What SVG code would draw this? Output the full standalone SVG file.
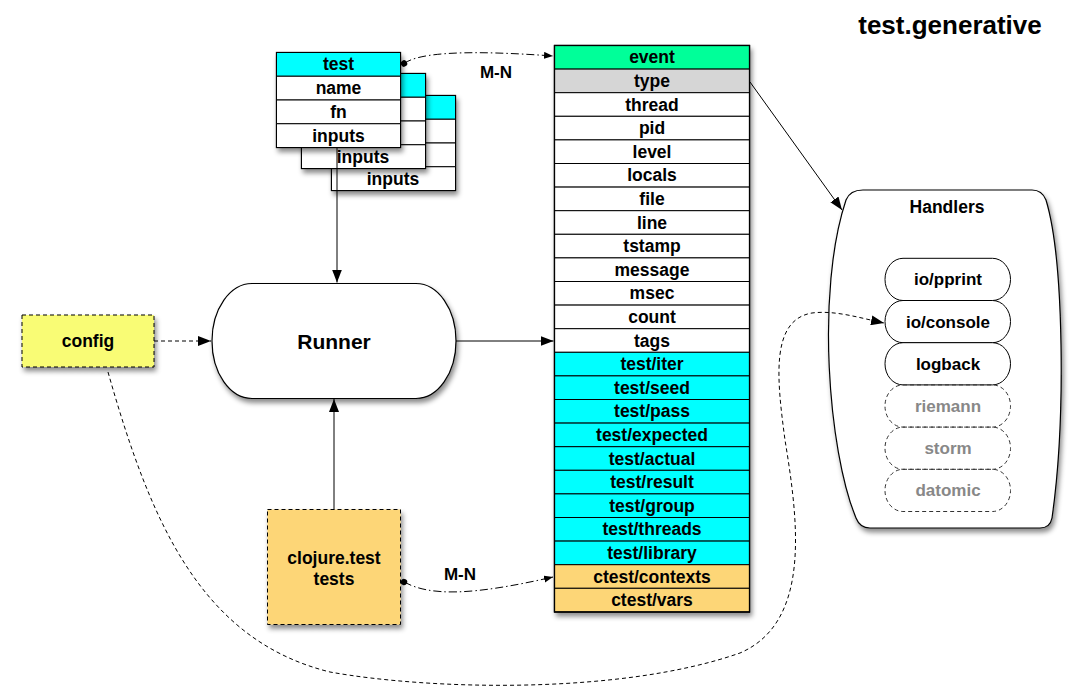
<svg xmlns="http://www.w3.org/2000/svg" width="1089" height="697" viewBox="0 0 1089 697">
<style>
.t{font-family:"Liberation Sans",Arial,Helvetica,sans-serif;font-weight:bold;font-size:17.5px;text-anchor:middle;fill:#000}
.g{fill:#888}
.box{stroke:#000;stroke-width:1.3}
.row{stroke:#000;stroke-width:1}
.cy{fill:#00FFFF}
.wh{fill:#FFFFFF}
.or{fill:#FDD677}
.dash{stroke-dasharray:4 3}
.ln{fill:none;stroke:#000;stroke-width:1}
.dd{stroke-dasharray:8 3 1.5 3}
</style>
<defs>
<filter id="sh" x="-10%" y="-10%" width="130%" height="130%">
<feDropShadow dx="2" dy="4" stdDeviation="2.5" flood-color="#000" flood-opacity="0.45"/>
</filter>
<marker id="ar" markerUnits="userSpaceOnUse" markerWidth="14" markerHeight="10" refX="13" refY="5" orient="auto">
<path d="M0,0 L13,5 L0,10 z" fill="#000"/>
</marker>
<marker id="arS" markerUnits="userSpaceOnUse" markerWidth="10" markerHeight="8" refX="9" refY="3.5" orient="auto">
<path d="M0,0 L9,3.5 L0,7 z" fill="#000"/>
</marker>
<marker id="dot" markerUnits="userSpaceOnUse" markerWidth="8" markerHeight="8" refX="4" refY="4" orient="auto">
<circle cx="4" cy="4" r="3.2" fill="#000"/>
</marker>
</defs>
<rect width="1089" height="697" fill="#fff"/>

<text class="t" x="950" y="34" style="font-size:26px">test.generative</text>

<!-- stacked test tables -->
<g id="test3">
<rect x="331.5" y="95.5" width="124" height="95" class="wh box" filter="url(#sh)"/>
<rect x="331.5" y="95.5" width="124" height="23.75" class="cy row"/>
<rect x="331.5" y="119.25" width="124" height="23.75" class="wh row"/>
<rect x="331.5" y="143" width="124" height="23.75" class="wh row"/>
<rect x="331.5" y="166.75" width="124" height="23.75" class="wh row"/>
<text class="t" x="393" y="184.6">inputs</text>
</g>
<g id="test2">
<rect x="301.5" y="73.5" width="124" height="95" class="wh box" filter="url(#sh)"/>
<rect x="301.5" y="73.5" width="124" height="23.75" class="cy row"/>
<rect x="301.5" y="97.25" width="124" height="23.75" class="wh row"/>
<rect x="301.5" y="121" width="124" height="23.75" class="wh row"/>
<rect x="301.5" y="144.75" width="124" height="23.75" class="wh row"/>
<text class="t" x="363" y="162.6">inputs</text>
</g>
<g id="test1">
<rect x="276.5" y="52.5" width="124" height="95" class="wh box" filter="url(#sh)"/>
<rect x="276.5" y="52.5" width="124" height="23.75" class="cy row"/>
<rect x="276.5" y="76.25" width="124" height="23.75" class="wh row"/>
<rect x="276.5" y="100" width="124" height="23.75" class="wh row"/>
<rect x="276.5" y="123.75" width="124" height="23.75" class="wh row"/>
<text class="t" x="338.5" y="70.4">test</text>
<text class="t" x="338.5" y="94.1">name</text>
<text class="t" x="338.5" y="117.9">fn</text>
<text class="t" x="338.5" y="141.6">inputs</text>
</g>

<!-- config -->
<g id="config">
<rect x="22" y="315" width="132" height="52" fill="#F9FC74" stroke="#000" stroke-width="1" class="dash" filter="url(#sh)"/>
<text class="t" x="88" y="347">config</text>
</g>

<!-- Runner -->
<g id="runner">
<path d="M252,283.5 H416 A40,57.5 0 0 1 416,398.5 H252 A40,57.5 0 0 1 252,283.5 Z" fill="#fff" stroke="#000" stroke-width="1.2" filter="url(#sh)"/>
<text class="t" x="334" y="348.5" style="font-size:21px">Runner</text>
</g>

<!-- clojure.test -->
<g id="clojuretest">
<rect x="267.5" y="509.5" width="133" height="115" class="or dash" stroke="#000" stroke-width="1" filter="url(#sh)"/>
<text class="t" x="334" y="563.5">clojure.test</text>
<text class="t" x="334" y="585">tests</text>
</g>

<!-- event table -->
<g id="event">
<rect x="554.5" y="45.5" width="195" height="566.4" fill="#fff" class="box" filter="url(#sh)"/>
<rect x="554.5" y="45.5" width="195" height="23.6" fill="#00FF99" class="row"/>
<rect x="554.5" y="69.1" width="195" height="23.6" fill="#D6D6D6" class="row"/>
<rect x="554.5" y="92.7" width="195" height="23.6" class="wh row"/>
<rect x="554.5" y="116.3" width="195" height="23.6" class="wh row"/>
<rect x="554.5" y="139.9" width="195" height="23.6" class="wh row"/>
<rect x="554.5" y="163.5" width="195" height="23.6" class="wh row"/>
<rect x="554.5" y="187.1" width="195" height="23.6" class="wh row"/>
<rect x="554.5" y="210.7" width="195" height="23.6" class="wh row"/>
<rect x="554.5" y="234.3" width="195" height="23.6" class="wh row"/>
<rect x="554.5" y="257.9" width="195" height="23.6" class="wh row"/>
<rect x="554.5" y="281.5" width="195" height="23.6" class="wh row"/>
<rect x="554.5" y="305.1" width="195" height="23.6" class="wh row"/>
<rect x="554.5" y="328.7" width="195" height="23.6" class="wh row"/>
<rect x="554.5" y="352.3" width="195" height="23.6" class="cy row"/>
<rect x="554.5" y="375.9" width="195" height="23.6" class="cy row"/>
<rect x="554.5" y="399.5" width="195" height="23.6" class="cy row"/>
<rect x="554.5" y="423.1" width="195" height="23.6" class="cy row"/>
<rect x="554.5" y="446.7" width="195" height="23.6" class="cy row"/>
<rect x="554.5" y="470.3" width="195" height="23.6" class="cy row"/>
<rect x="554.5" y="493.9" width="195" height="23.6" class="cy row"/>
<rect x="554.5" y="517.5" width="195" height="23.6" class="cy row"/>
<rect x="554.5" y="541.1" width="195" height="23.6" class="cy row"/>
<rect x="554.5" y="564.7" width="195" height="23.6" class="or row"/>
<rect x="554.5" y="588.3" width="195" height="23.6" class="or row"/>
<rect x="554.5" y="45.5" width="195" height="566.4" fill="none" class="box"/>
<text class="t" x="652" y="63.3">event</text>
<text class="t" x="652" y="86.9">type</text>
<text class="t" x="652" y="110.5">thread</text>
<text class="t" x="652" y="134.1">pid</text>
<text class="t" x="652" y="157.7">level</text>
<text class="t" x="652" y="181.3">locals</text>
<text class="t" x="652" y="204.9">file</text>
<text class="t" x="652" y="228.5">line</text>
<text class="t" x="652" y="252.1">tstamp</text>
<text class="t" x="652" y="275.7">message</text>
<text class="t" x="652" y="299.3">msec</text>
<text class="t" x="652" y="322.9">count</text>
<text class="t" x="652" y="346.5">tags</text>
<text class="t" x="652" y="370.1">test/iter</text>
<text class="t" x="652" y="393.7">test/seed</text>
<text class="t" x="652" y="417.3">test/pass</text>
<text class="t" x="652" y="440.9">test/expected</text>
<text class="t" x="652" y="464.5">test/actual</text>
<text class="t" x="652" y="488.1">test/result</text>
<text class="t" x="652" y="511.7">test/group</text>
<text class="t" x="652" y="535.3">test/threads</text>
<text class="t" x="652" y="558.9">test/library</text>
<text class="t" x="652" y="582.5">ctest/contexts</text>
<text class="t" x="652" y="606.1">ctest/vars</text>
</g>

<!-- Handlers -->
<g id="handlers">
<path d="M863,190 H1032 Q1042,190 1046,200 C1064,260 1066,420 1052,518 Q1050,528 1040,528 H870 Q860,528 856,518 C828,450 816,290 846,200 Q850,190 863,190 Z" fill="#fff" stroke="#000" stroke-width="1.2" filter="url(#sh)"/>
<text class="t" x="947" y="213">Handlers</text>
</g>
<g id="h-pprint">
<rect x="885" y="258.3" width="125.5" height="42.2" rx="18" ry="21" fill="#fff" stroke="#000" stroke-width="1"/>
<text class="t" x="948" y="285.4" style="font-size:17px">io/pprint</text>
</g>
<g id="h-console">
<rect x="885" y="300.5" width="125.5" height="42.2" rx="18" ry="21" fill="#fff" stroke="#000" stroke-width="1"/>
<text class="t" x="948" y="327.6" style="font-size:17px">io/console</text>
</g>
<g id="h-logback">
<rect x="885" y="342.7" width="125.5" height="42.2" rx="18" ry="21" fill="#fff" stroke="#000" stroke-width="1"/>
<text class="t" x="948" y="369.8" style="font-size:17px">logback</text>
</g>
<g id="h-riemann">
<rect x="885" y="384.9" width="125.5" height="42.2" rx="18" ry="21" fill="none" stroke="#333" stroke-width="1" class="dash"/>
<text class="t g" x="948" y="412" style="font-size:17px">riemann</text>
</g>
<g id="h-storm">
<rect x="885" y="427.1" width="125.5" height="42.2" rx="18" ry="21" fill="none" stroke="#333" stroke-width="1" class="dash"/>
<text class="t g" x="948" y="454.2" style="font-size:17px">storm</text>
</g>
<g id="h-datomic">
<rect x="885" y="469.3" width="125.5" height="42.2" rx="18" ry="21" fill="none" stroke="#333" stroke-width="1" class="dash"/>
<text class="t g" x="948" y="496.4" style="font-size:17px">datomic</text>
</g>

<!-- connectors -->
<g id="connectors">
<path class="ln" d="M337,147.5 V282.5" marker-end="url(#ar)"/>
<path class="ln dash" d="M154,341 H211" marker-end="url(#ar)"/>
<path class="ln" d="M456,341 H553.5" marker-end="url(#ar)"/>
<path class="ln" d="M334,509.5 V399" marker-end="url(#ar)"/>
<path class="ln" d="M750,82 L842,210" marker-end="url(#ar)"/>
<path class="ln dd" d="M404,63.5 C420,52 470,50 553,56" marker-start="url(#dot)" marker-end="url(#arS)"/>
<path class="ln dd" d="M404,582 C430,596 470,596 553,577" marker-start="url(#dot)" marker-end="url(#arS)"/>
<path class="ln dash" d="M108,372 C150,520 200,640 330,672 C430,690 620,695 740,653 C812,622 798,520 785,440 C777,380 770,320 812,313 C835,310 860,318 884,323" marker-end="url(#ar)"/>
<text class="t" x="496" y="77.5" style="font-size:17px">M-N</text>
<text class="t" x="460" y="580" style="font-size:17px">M-N</text>
</g>
</svg>
